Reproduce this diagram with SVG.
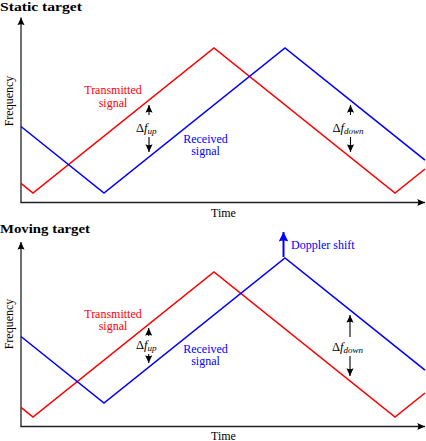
<svg xmlns="http://www.w3.org/2000/svg" width="426" height="441" viewBox="0 0 426 441">
<style>
.axis{stroke:#222;stroke-width:1.3;fill:none}
.tx{stroke:#ff0000;stroke-width:1.6;fill:none;stroke-linejoin:miter}
.rx{stroke:#0000ff;stroke-width:1.6;fill:none;stroke-linejoin:miter}
.df{stroke:#000;stroke-width:1.1;fill:none}
text{font-family:'Liberation Serif','DejaVu Serif','Times New Roman',serif}
.lbl{font-size:12px}
.title{font-size:12.5px;font-weight:bold}
.math{font-size:12.5px}
</style>
<defs>
<marker id="ah" markerUnits="userSpaceOnUse" markerWidth="10" markerHeight="10" refX="0" refY="0" viewBox="-8 -4 9 8" orient="auto">
<path d="M0,0 L-7,-3.2 Q-5,0 -7,3.2 Z" fill="#000"/>
</marker>
<marker id="ahb" markerUnits="userSpaceOnUse" markerWidth="12" markerHeight="12" refX="0" refY="0" viewBox="-9 -5 10 10" orient="auto">
<path d="M0,0 L-8,-4 Q-6,0 -8,4 Z" fill="#0000ff"/>
</marker>
</defs>

<g id="static-panel">
<text class="title" x="0" y="11" textLength="82" lengthAdjust="spacingAndGlyphs" font-family="Liberation Serif, serif">Static target</text>
<g id="static-axes">
<line class="axis" x1="21" y1="202.5" x2="21" y2="17.5" marker-end="url(#ah)"/>
<line class="axis" x1="20.4" y1="202.5" x2="425" y2="202.5" marker-end="url(#ah)"/>
<text class="lbl" x="0" y="0" text-anchor="middle" transform="translate(13,101) rotate(-90)" font-family="Liberation Serif, serif">Frequency</text>
<text class="lbl" x="223.5" y="217" text-anchor="middle" font-family="Liberation Serif, serif">Time</text>
</g>
<g id="static-transmitted">
<polyline class="tx" points="21,183.4 33,193 214,48 395,193 425,169"/>
<text class="lbl" x="113" y="94" text-anchor="middle" fill="#ff0000" font-family="Liberation Serif, serif">Transmitted</text>
<text class="lbl" x="113" y="106.5" text-anchor="middle" fill="#ff0000" font-family="Liberation Serif, serif">signal</text>
</g>
<g id="static-received">
<polyline class="rx" points="21,126.5 104,193 285,48 425,160.2"/>
<text class="lbl" x="205.5" y="142.5" text-anchor="middle" fill="#0000ff" font-family="Liberation Serif, serif">Received</text>
<text class="lbl" x="205.5" y="155" text-anchor="middle" fill="#0000ff" font-family="Liberation Serif, serif">signal</text>
</g>
<g id="static-dfup">
<line class="df" x1="149" y1="115" x2="149" y2="105" marker-end="url(#ah)"/>
<line class="df" x1="149" y1="137" x2="149" y2="152" marker-end="url(#ah)"/>
<text class="math" x="136" y="132" font-family="Liberation Serif, serif">Δ<tspan font-style="italic">f</tspan><tspan font-style="italic" font-size="9" dy="2">up</tspan></text>
</g>
<g id="static-dfdown">
<line class="df" x1="350.5" y1="115" x2="350.5" y2="105" marker-end="url(#ah)"/>
<line class="df" x1="350.5" y1="137" x2="350.5" y2="152" marker-end="url(#ah)"/>
<text class="math" x="332.5" y="132" font-family="Liberation Serif, serif">Δ<tspan font-style="italic">f</tspan><tspan font-style="italic" font-size="9" dy="2">down</tspan></text>
</g>
</g>

<g id="moving-panel">
<text class="title" x="0" y="233" textLength="90" lengthAdjust="spacingAndGlyphs" font-family="Liberation Serif, serif">Moving target</text>
<g id="moving-axes">
<line class="axis" x1="21" y1="426.5" x2="21" y2="242" marker-end="url(#ah)"/>
<line class="axis" x1="20.4" y1="426.5" x2="425" y2="426.5" marker-end="url(#ah)"/>
<text class="lbl" x="0" y="0" text-anchor="middle" transform="translate(13,324) rotate(-90)" font-family="Liberation Serif, serif">Frequency</text>
<text class="lbl" x="223.5" y="439.5" text-anchor="middle" font-family="Liberation Serif, serif">Time</text>
</g>
<g id="moving-transmitted">
<polyline class="tx" points="21,407.4 33,417 214,272 395,417 425,393"/>
<text class="lbl" x="113" y="317.5" text-anchor="middle" fill="#ff0000" font-family="Liberation Serif, serif">Transmitted</text>
<text class="lbl" x="113" y="330" text-anchor="middle" fill="#ff0000" font-family="Liberation Serif, serif">signal</text>
</g>
<g id="moving-received">
<polyline class="rx" points="21,336.5 104,403 285,258 425,370.2"/>
<text class="lbl" x="205.5" y="352.5" text-anchor="middle" fill="#0000ff" font-family="Liberation Serif, serif">Received</text>
<text class="lbl" x="205.5" y="365" text-anchor="middle" fill="#0000ff" font-family="Liberation Serif, serif">signal</text>
</g>
<g id="moving-dfup">
<line class="df" x1="148.7" y1="336" x2="148.7" y2="328" marker-end="url(#ah)"/>
<line class="df" x1="148.7" y1="354" x2="148.7" y2="363" marker-end="url(#ah)"/>
<text class="math" x="136" y="349" font-family="Liberation Serif, serif">Δ<tspan font-style="italic">f</tspan><tspan font-style="italic" font-size="9" dy="2">up</tspan></text>
</g>
<g id="moving-dfdown">
<line class="df" x1="350" y1="337" x2="350" y2="315" marker-end="url(#ah)"/>
<line class="df" x1="350" y1="356" x2="350" y2="376" marker-end="url(#ah)"/>
<text class="math" x="332" y="350.5" font-family="Liberation Serif, serif">Δ<tspan font-style="italic">f</tspan><tspan font-style="italic" font-size="9" dy="2">down</tspan></text>
</g>
<g id="doppler-shift">
<line x1="283.5" y1="257" x2="283.5" y2="232" stroke="#0000ff" stroke-width="2" marker-end="url(#ahb)"/>
<text class="lbl" x="291" y="248.5" fill="#0000ff" font-family="Liberation Serif, serif">Doppler shift</text>
</g>
</g>
</svg>
